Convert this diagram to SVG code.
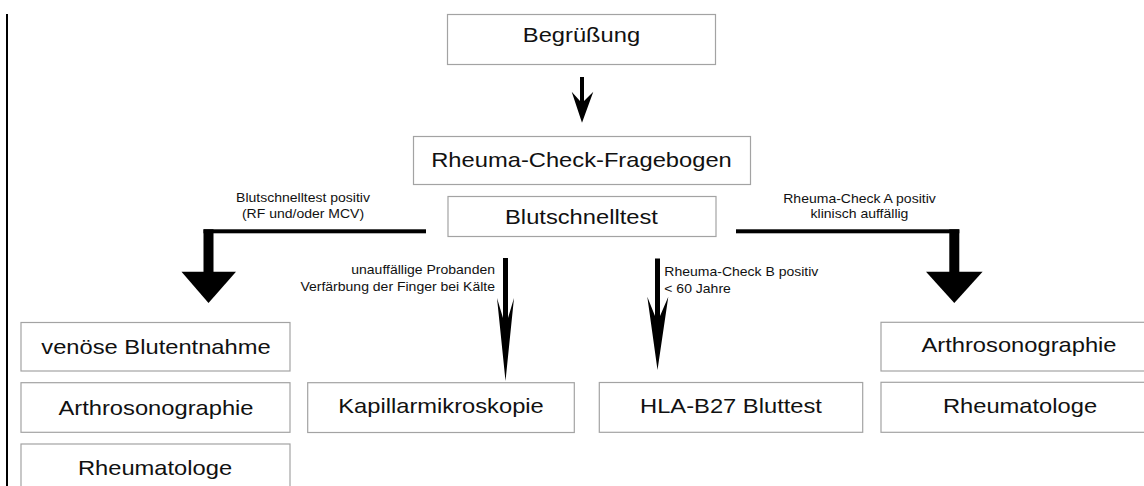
<svg xmlns="http://www.w3.org/2000/svg" width="1144" height="486" viewBox="0 0 1144 486">
<style>
.box{fill:#fff;stroke:#a3a3a3;stroke-width:1.2}
.big{font-family:"Liberation Sans",Arial,sans-serif;font-size:21px;fill:#111;text-anchor:middle}
.sm{font-family:"Liberation Sans",Arial,sans-serif;font-size:12.4px;fill:#111}
.c{text-anchor:middle}
.e{text-anchor:end}
.s{text-anchor:start}
.ink{fill:#000}
</style>
<rect width="1144" height="486" fill="#fff"/>
<rect x="6" y="14" width="2" height="472" class="ink"/>

<g id="begruessung">
<rect class="box" x="447.5" y="14.5" width="268" height="50"/>
<text class="big" transform="translate(581.5 41.7) scale(1.13 1)">Begrüßung</text>
</g>
<g id="fragebogen">
<rect class="box" x="413.5" y="136.5" width="337" height="48"/>
<text class="big" transform="translate(581.5 167.3) scale(1.13 1)">Rheuma-Check-Fragebogen</text>
</g>
<g id="blutschnelltest">
<rect class="box" x="448" y="196.5" width="268" height="40"/>
<text class="big" transform="translate(581.5 224.3) scale(1.13 1)">Blutschnelltest</text>
</g>
<g id="venoese">
<rect class="box" x="21" y="322.5" width="269" height="48.5"/>
<text class="big" transform="translate(156 354) scale(1.13 1)">venöse Blutentnahme</text>
</g>
<g id="arthro-links">
<rect class="box" x="21" y="382.7" width="269" height="49.6"/>
<text class="big" transform="translate(156 415) scale(1.13 1)">Arthrosonographie</text>
</g>
<g id="rheumatologe-links">
<rect class="box" x="21" y="444" width="269" height="50"/>
<text class="big" transform="translate(155 475) scale(1.13 1)">Rheumatologe</text>
</g>
<g id="kapillar">
<rect class="box" x="307.7" y="382.7" width="266.6" height="49.8"/>
<text class="big" transform="translate(441 413.3) scale(1.13 1)">Kapillarmikroskopie</text>
</g>
<g id="hla">
<rect class="box" x="599.3" y="382.5" width="263.4" height="49.8"/>
<text class="big" transform="translate(731 413.3) scale(1.13 1)">HLA-B27 Bluttest</text>
</g>
<g id="arthro-rechts">
<rect class="box" x="881" y="322.3" width="276" height="48.7"/>
<text class="big" transform="translate(1019 351.7) scale(1.13 1)">Arthrosonographie</text>
</g>
<g id="rheumatologe-rechts">
<rect class="box" x="881" y="382.3" width="276" height="50"/>
<text class="big" transform="translate(1020 413.3) scale(1.13 1)">Rheumatologe</text>
</g>

<g id="connectors">
<g class="ink">
<rect x="580" y="77" width="4" height="25"/>
<polygon points="571.7,91.7 580,101 584,101 593.3,91.7 582,122.7"/>
<rect x="203.5" y="229.3" width="222.5" height="4"/>
<rect x="203.5" y="229.3" width="10" height="43"/>
<polygon points="181.5,271.7 236,271.7 208.5,303"/>
<rect x="736" y="229.3" width="223.3" height="4"/>
<rect x="949.3" y="229.3" width="10" height="43"/>
<polygon points="926,271.7 982.6,271.7 954.3,303"/>
<rect x="503" y="258" width="5" height="60"/>
<polygon points="497,298 503,318 508,318 514,298 505.5,381"/>
<rect x="655" y="258.5" width="5" height="60"/>
<polygon points="647.3,296.7 655,316 660,316 668.3,296.7 657.5,370"/>
</g>
<text class="sm c" transform="translate(303 202) scale(1.13 1)">Blutschnelltest positiv</text>
<text class="sm c" transform="translate(303 218.3) scale(1.13 1)">(RF und/oder MCV)</text>
<text class="sm c" transform="translate(859.5 202.7) scale(1.13 1)">Rheuma-Check A positiv</text>
<text class="sm c" transform="translate(859.5 217.5) scale(1.13 1)">klinisch auffällig</text>
<text class="sm e" transform="translate(495 273.5) scale(1.13 1)">unauffällige Probanden</text>
<text class="sm e" transform="translate(495 290.5) scale(1.13 1)">Verfärbung der Finger bei Kälte</text>
<text class="sm s" transform="translate(664.3 276) scale(1.13 1)">Rheuma-Check B positiv</text>
<text class="sm s" transform="translate(664.3 293) scale(1.13 1)">&lt; 60 Jahre</text>
</g>
</svg>
